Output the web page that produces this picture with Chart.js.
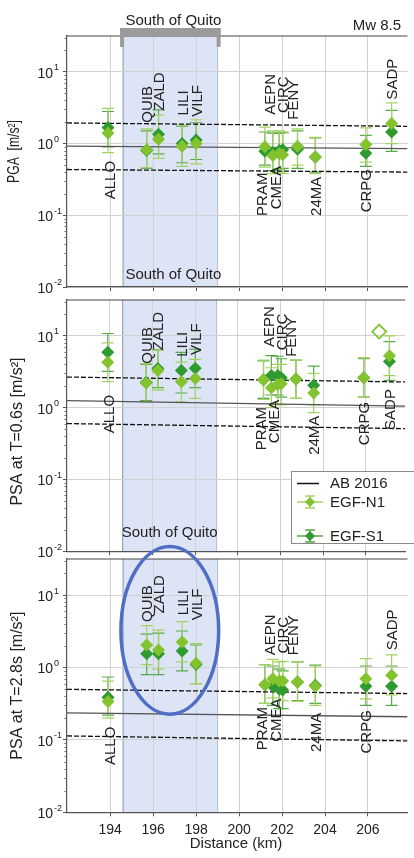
<!DOCTYPE html>
<html>
<head>
<meta charset="utf-8">
<script src="https://cdn.jsdelivr.net/npm/chart.js@4.4.1/dist/chart.umd.min.js"></script>
<style>
  body { margin: 0; background: #fff; width: 414px; height: 858px; overflow: hidden; position: relative; }
  canvas { position: absolute; left: 0; }
</style>
</head>
<body>
<canvas id="pga" width="414" height="300" style="top:0"></canvas>
<canvas id="psa06" width="414" height="270" style="top:290px"></canvas>
<canvas id="psa28" width="414" height="318" style="top:540px"></canvas>
<script>
// stations and distances (km)
const stations = ["ALLO", "QUIB", "ZALD", "LILI", "VILF", "PRAM", "AEPN", "CMEA", "CIRC", "FENY", "24MA", "CRPG", "SADP"];
const distance = [193.9, 195.7, 196.25, 197.35, 198.0, 201.2, 201.57, 201.87, 202.03, 202.72, 203.55, 205.9, 207.1];
const xTicks = [194, 196, 198, 200, 202, 204, 206];
const yDecades = [-2, -1, 0, 1];

// PGA
const pgaN1 = [1.4, 0.82, 1.15, 0.92, 1.0, 0.9, 0.68, 0.72, 0.7, 0.92, 0.65, 0.97, 1.9];
const pgaN1Lo = [0.75, 0.46, 0.62, 0.48, 0.52, 0.47, 0.38, 0.4, 0.38, 0.5, 0.38, 0.55, 1.0];
const pgaN1Hi = [3.1, 1.6, 2.5, 1.8, 2.15, 1.7, 1.5, 1.5, 1.45, 1.6, 1.22, 1.65, 3.7];
const pgaS1 = [1.68, 0.8, 1.35, 1.0, 1.12, 0.78, 0.75, 0.8, 0.82, 0.83, 0.65, 0.73, 1.45];
const pgaS1Lo = [0.9, 0.45, 0.72, 0.54, 0.6, 0.5, 0.42, 0.44, 0.45, 0.45, 0.4, 0.48, 0.78];
const pgaS1Hi = [2.8, 1.5, 2.95, 1.75, 1.95, 1.45, 1.4, 1.4, 1.42, 1.5, 1.2, 1.3, 2.9];
const pgaAB = { hi: [1.94, 1.74], med: [0.92, 0.85], lo: [0.435, 0.4] };

// PSA at T=0.6s
const p06N1 = [4.3, 2.2, 3.3, 2.3, 2.55, 2.45, 1.9, 2.1, 2.15, 2.5, 1.6, 2.6, 5.3];
const p06N1Lo = [2.3, 1.2, 1.75, 1.2, 1.35, 1.3, 1.0, 1.1, 1.1, 1.35, 0.85, 1.4, 2.8];
const p06N1Hi = [8.0, 4.1, 6.3, 4.3, 4.7, 4.6, 3.6, 4.0, 4.0, 4.6, 3.0, 5.0, 10];
const p06S1 = [5.9, 2.25, 3.5, 3.3, 3.55, 2.45, 2.8, 2.8, 2.6, 2.5, 2.05, 2.6, 4.4];
const p06S1Lo = [3.2, 1.25, 1.9, 1.6, 1.9, 1.35, 1.5, 1.5, 1.4, 1.35, 1.1, 1.4, 2.4];
const p06S1Hi = [10.8, 4.0, 6.4, 5.9, 6.5, 4.5, 5.3, 5.2, 4.8, 4.6, 3.8, 4.8, 8.3];
const p06Outlier = [{ x: 206.62, y: 11.5 }];
const p06AB = { hi: [2.67, 2.28], med: [1.25, 1.05], lo: [0.6, 0.51] };

// PSA at T=2.8s
const p28N1 = [0.34, 2.05, 1.75, 2.25, 1.15, 0.58, 0.7, 0.65, 0.65, 0.63, 0.55, 0.7, 0.78];
const p28N1Lo = [0.2, 1.1, 0.95, 1.2, 0.6, 0.32, 0.38, 0.35, 0.35, 0.34, 0.3, 0.37, 0.42];
const p28N1Hi = [0.65, 3.8, 3.3, 4.3, 2.15, 1.1, 1.3, 1.2, 1.22, 1.2, 1.05, 1.33, 1.5];
const p28S1 = [0.39, 1.55, 1.55, 1.7, 1.1, 0.58, 0.55, 0.5, 0.49, 0.63, 0.57, 0.55, 0.55];
const p28S1Lo = [0.22, 0.8, 0.8, 0.9, 0.6, 0.32, 0.3, 0.27, 0.27, 0.35, 0.32, 0.3, 0.3];
const p28S1Hi = [0.74, 2.9, 3.0, 3.2, 2.05, 1.1, 1.05, 0.95, 0.9, 1.2, 1.08, 1.05, 1.05];
const p28AB = { hi: [0.5, 0.437], med: [0.236, 0.209], lo: [0.1135, 0.097] };

// where the station names start (y value) in each panel
const pgaLabelAt = [0.167, 1.95, 2.87, 2.47, 2.37, 0.098, 2.53, 0.121, 2.67, 2.15, 0.098, 0.11, 4.1];
const p06LabelAt = [0.44, 4.1, 6.3, 5.1, 5.4, 0.254, 7.0, 0.32, 6.3, 5.1, 0.22, 0.3, 0.49];
const p28LabelAt = [0.045, 4.27, 5.6, 5.3, 4.5, 0.072, 1.48, 0.094, 1.56, 1.48, 0.068, 0.065, 1.73];
const labelShift = [1, 0, 0, 0, 0, -3, -3, -4, 0, -5, 0, 0, 0];

const xMin = 191.99, xMax = 207.84;
const yMin = 0.01, yMax = Math.pow(10, 1.5);
const quito = [194.6, 199.0];

const FONT = "'Liberation Sans', Arial, sans-serif";
const N1 = "#82c32e", S1 = "#2e9a30";
const N1bar = "#a3d263", S1bar = "#58a948";
const TXT = "#222";

function pts(vals) {
  return vals.map((v, i) => ({ x: distance[i], y: v }));
}

function abLine(v, dash, color) {
  return {
    data: [{ x: xMin, y: v[0] }, { x: xMax, y: v[1] }],
    showLine: true, borderColor: color, borderWidth: 1.3, borderDash: dash,
    pointRadius: 0, order: 3
  };
}

function errBars(ctx, xs, ys, lo, hi, color) {
  ctx.strokeStyle = color;
  ctx.lineWidth = 1.2;
  for (let i = 0; i < distance.length; i++) {
    const x = xs.getPixelForValue(distance[i]);
    const y1 = ys.getPixelForValue(lo[i]), y2 = ys.getPixelForValue(hi[i]);
    ctx.beginPath();
    ctx.moveTo(x, y1); ctx.lineTo(x, y2);
    ctx.moveTo(x - 6, y1); ctx.lineTo(x + 6, y1);
    ctx.moveTo(x - 6, y2); ctx.lineTo(x + 6, y2);
    ctx.stroke();
  }
}

function text(ctx, s, x, y, size, align, base, rot, squeeze) {
  ctx.save();
  ctx.font = size + "px " + FONT;
  ctx.fillStyle = TXT;
  ctx.textAlign = align || "center";
  ctx.textBaseline = base || "middle";
  ctx.translate(x, y);
  if (rot) ctx.rotate(-Math.PI / 2);
  if (squeeze) ctx.scale(squeeze, 1);
  ctx.fillText(s, 0, 0);
  ctx.restore();
}

function legendSymbol(ctx, x, y, color, bar) {
  ctx.strokeStyle = bar;
  ctx.lineWidth = 1.5;
  ctx.beginPath();
  ctx.moveTo(x - 13, y); ctx.lineTo(x + 13, y);
  ctx.moveTo(x, y - 6); ctx.lineTo(x, y + 6);
  ctx.moveTo(x - 5, y - 6); ctx.lineTo(x + 5, y - 6);
  ctx.moveTo(x - 5, y + 6); ctx.lineTo(x + 5, y + 6);
  ctx.stroke();
  ctx.fillStyle = color;
  ctx.beginPath();
  ctx.moveTo(x - 5, y); ctx.lineTo(x, y - 5); ctx.lineTo(x + 5, y); ctx.lineTo(x, y + 5);
  ctx.closePath();
  ctx.fill();
}

function makePanel(id, p) {
  const extra = [];
  if (p.outlier) {
    extra.push({
      data: p.outlier, pointStyle: "rectRot", pointRadius: 7,
      backgroundColor: "rgba(255,255,255,0)", borderColor: N1, borderWidth: 1.8, order: 0
    });
  }
  const decor = {
    id: "decor_" + id,
    beforeDraw(chart) {
      const { ctx, chartArea: a, scales } = chart;
      const x1 = scales.x.getPixelForValue(quito[0]), x2 = scales.x.getPixelForValue(quito[1]);
      ctx.save();
      ctx.fillStyle = "#dce4f6";
      ctx.fillRect(x1, a.top, x2 - x1, a.bottom - a.top);
      ctx.strokeStyle = "#8795b5";
      ctx.lineWidth = 1;
      ctx.beginPath();
      ctx.moveTo(x1, a.top); ctx.lineTo(x1, a.bottom);
      ctx.stroke();
      ctx.strokeStyle = "#b4bdd4";
      ctx.beginPath();
      ctx.moveTo(x2, a.top); ctx.lineTo(x2, a.bottom);
      ctx.stroke();
      ctx.restore();
    },
    beforeDatasetsDraw(chart) {
      const { ctx, scales } = chart;
      ctx.save();
      errBars(ctx, scales.x, scales.y, p.s1Lo, p.s1Hi, S1bar);
      errBars(ctx, scales.x, scales.y, p.n1Lo, p.n1Hi, N1bar);
      ctx.restore();
    },
    afterDraw(chart) {
      const { ctx, chartArea: a, scales } = chart;
      const xs = scales.x, ys = scales.y;
      ctx.save();
      // top frame line
      ctx.strokeStyle = "#444";
      ctx.lineWidth = 1.2;
      ctx.beginPath();
      ctx.moveTo(a.left, a.top); ctx.lineTo(a.right, a.top);
      ctx.stroke();
      // minor log ticks
      ctx.strokeStyle = "#666";
      ctx.lineWidth = 1;
      ctx.beginPath();
      yDecades.forEach(e => {
        for (let m = 2; m <= 9; m++) {
          const v = m * Math.pow(10, e);
          if (v > yMax) continue;
          const y = Math.round(ys.getPixelForValue(v)) + 0.5;
          ctx.moveTo(a.left - 2.5, y); ctx.lineTo(a.left, y);
        }
      });
      ctx.stroke();
      // y tick labels 10^n
      yDecades.forEach(e => {
        const y = ys.getPixelForValue(Math.pow(10, e));
        text(ctx, "10", 53, y + 2, 14, "right", "middle");
        text(ctx, String(e), 54, y - 4, 9, "left", "middle");
      });
      // y title
      text(ctx, p.title, p.titleX, (a.top + a.bottom) / 2 + p.titleDy, 16, "center", "middle", true, p.titleSqueeze);
      // station names
      stations.forEach((s, i) => {
        const x = xs.getPixelForValue(distance[i]) + labelShift[i];
        const y = ys.getPixelForValue(p.labelAt[i]);
        text(ctx, s, x + 5.5, y, 15, "left", "alphabetic", true);
      });
      if (p.draw) p.draw(ctx, a, xs, ys);
      ctx.restore();
    }
  };

  return new Chart(document.getElementById(id), {
    type: "scatter",
    data: {
      datasets: [
        { label: "EGF-N1", data: pts(p.n1), pointStyle: "rectRot", pointRadius: 6.5, backgroundColor: N1, borderColor: N1, borderWidth: 0, order: 1 },
        { label: "EGF-S1", data: pts(p.s1), pointStyle: "rectRot", pointRadius: 6.5, backgroundColor: S1, borderColor: S1, borderWidth: 0, order: 2 },
        abLine(p.ab.hi, [5, 2], "#111"),
        abLine(p.ab.med, [], "#555"),
        abLine(p.ab.lo, [5, 2], "#111")
      ].concat(extra)
    },
    options: {
      responsive: false,
      animation: false,
      events: [],
      layout: { padding: { top: p.padTop, left: 0, right: 0, bottom: 0 } },
      plugins: { legend: { display: false }, tooltip: { enabled: false } },
      scales: {
        x: {
          type: "linear", min: xMin, max: xMax,
          afterBuildTicks: s => { s.ticks = xTicks.map(v => ({ value: v })); },
          afterFit: s => { s.height = p.axisH; },
          ticks: { display: false },
          grid: { color: "#d2d2d2", tickColor: "#555", tickLength: 4 },
          border: { color: "#555", width: 1.2 }
        },
        y: {
          type: "logarithmic", min: yMin, max: yMax,
          afterBuildTicks: s => { s.ticks = yDecades.map(e => ({ value: Math.pow(10, e) })); },
          afterFit: s => { s.width = 67; },
          ticks: { display: false },
          grid: { color: "#d2d2d2", tickColor: "#555", tickLength: 4 },
          border: { color: "#555", width: 1.2 }
        }
      }
    },
    plugins: [decor]
  });
}

makePanel("pga", {
  n1: pgaN1, n1Lo: pgaN1Lo, n1Hi: pgaN1Hi, s1: pgaS1, s1Lo: pgaS1Lo, s1Hi: pgaS1Hi,
  ab: pgaAB, labelAt: pgaLabelAt, padTop: 36, axisH: 13,
  title: "PGA  [m/s²]", titleX: 15, titleDy: -10, titleSqueeze: 0.76,
  draw(ctx, a, xs, ys) {
    const x1 = xs.getPixelForValue(quito[0]), x2 = xs.getPixelForValue(quito[1]);
    const cx = (x1 + x2) / 2;
    ctx.fillStyle = "#9b9b9b";
    ctx.fillRect(x1 - 3, a.top - 8, x2 - x1 + 6, 8);
    ctx.fillRect(x1 - 3, a.top - 8, 4, 19);
    ctx.fillRect(x2 - 1, a.top - 8, 4, 19);
    text(ctx, "South of Quito", cx + 3, 25, 15, "center", "alphabetic");
    text(ctx, "Mw 8.5", 401, 30, 15, "right", "alphabetic");
    text(ctx, "South of Quito", cx + 3, a.bottom - 8, 15, "center", "alphabetic");
  }
});

makePanel("psa06", {
  n1: p06N1, n1Lo: p06N1Lo, n1Hi: p06N1Hi, s1: p06S1, s1Lo: p06S1Lo, s1Hi: p06S1Hi,
  ab: p06AB, labelAt: p06LabelAt, outlier: p06Outlier, padTop: 10, axisH: 7.3,
  title: "PSA at T=0.6s [m/s²]", titleX: 18, titleDy: 6, titleSqueeze: 1,
  draw(ctx, a, xs) {
    const x1 = xs.getPixelForValue(quito[0]), x2 = xs.getPixelForValue(quito[1]);
    text(ctx, "South of Quito", (x1 + x2) / 2, a.bottom - 14, 15, "center", "alphabetic");
    // legend
    const lx = 291, ly = 181;
    ctx.fillStyle = "#fff";
    ctx.fillRect(lx, ly, 130, 72);
    ctx.strokeStyle = "#8a8a8a";
    ctx.lineWidth = 1;
    ctx.strokeRect(lx + 0.5, ly + 0.5, 130, 72);
    ctx.strokeStyle = "#111";
    ctx.lineWidth = 1.5;
    ctx.beginPath();
    ctx.moveTo(lx + 6, ly + 12.5); ctx.lineTo(lx + 28, ly + 12.5);
    ctx.stroke();
    text(ctx, "AB 2016", lx + 39, ly + 13, 15, "left", "middle");
    legendSymbol(ctx, lx + 19, ly + 31, N1, N1bar);
    text(ctx, "EGF-N1", lx + 39, ly + 32, 15, "left", "middle");
    legendSymbol(ctx, lx + 19, ly + 65, S1, S1bar);
    text(ctx, "EGF-S1", lx + 39, ly + 66, 15, "left", "middle");
  }
});

makePanel("psa28", {
  n1: p28N1, n1Lo: p28N1Lo, n1Hi: p28N1Hi, s1: p28S1, s1Lo: p28S1Lo, s1Hi: p28S1Hi,
  ab: p28AB, labelAt: p28LabelAt, padTop: 19, axisH: 45.7,
  title: "PSA at T=2.8s [m/s²]", titleX: 18, titleDy: 0, titleSqueeze: 1,
  draw(ctx, a, xs, ys) {
    xTicks.forEach(v => text(ctx, String(v), xs.getPixelForValue(v), a.bottom + 18, 14, "center", "middle"));
    text(ctx, "Distance (km)", 236, a.bottom + 32, 15, "center", "middle");
    // ellipse round the south-of-Quito stations
    const ex1 = xs.getPixelForValue(194.5), ex2 = xs.getPixelForValue(199.05);
    const ey1 = ys.getPixelForValue(47), ey2 = ys.getPixelForValue(0.226);
    ctx.strokeStyle = "#4f6ec4";
    ctx.lineWidth = 3.5;
    ctx.beginPath();
    ctx.ellipse((ex1 + ex2) / 2, (ey1 + ey2) / 2, (ex2 - ex1) / 2, (ey2 - ey1) / 2, 0, 0, 2 * Math.PI);
    ctx.stroke();
  }
});
</script>
</body>
</html>
